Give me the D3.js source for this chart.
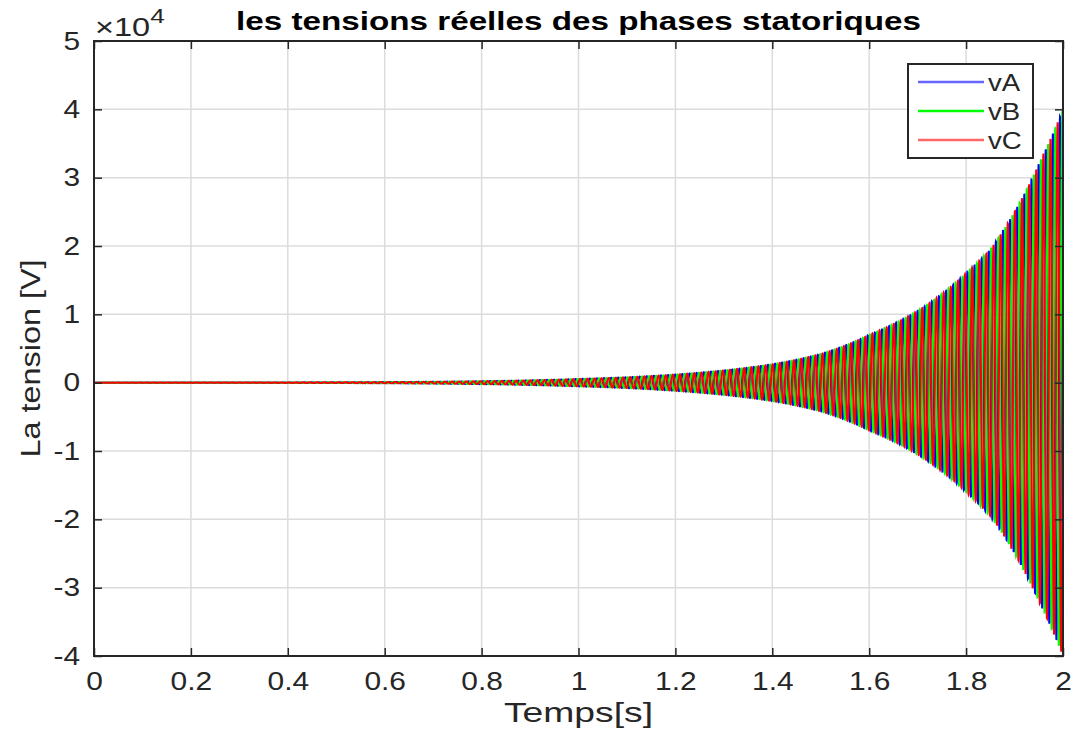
<!DOCTYPE html>
<html>
<head>
<meta charset="utf-8">
<script src="https://cdn.jsdelivr.net/npm/d3@7"></script>
<style>
  body { margin: 0; background: #fff; }
  text { font-family: "Liberation Sans", Arial, sans-serif; fill: #262626; }
</style>
</head>
<body>
<svg id="chart" width="1072" height="738"></svg>
<script>
// envelope of the three stator voltages (in units of 1e4 V)
var envTimes = [0, 0.1, 0.2, 0.3, 0.4, 0.5, 0.6, 0.7, 0.8, 0.9, 1.0, 1.1, 1.2, 1.3, 1.4, 1.5, 1.6, 1.7, 1.8, 1.85, 1.9, 1.95, 2.0];
var envValues = [0.0006, 0.001, 0.0016, 0.0025, 0.004, 0.006, 0.009, 0.014, 0.022, 0.035, 0.055, 0.08, 0.12, 0.18, 0.27, 0.42, 0.70, 1.05, 1.6, 1.95, 2.5, 3.2, 4.0];
var freqHz = 68;                       // carrier, about 7 px per cycle in the picture
var seriesNames = ['vA', 'vB', 'vC'];
var seriesPhase = [4 * Math.PI / 3, 2 * Math.PI / 3, 0];
var seriesColors = ['#0000ff', '#00ff00', '#ff0000'];
var xTicks = [0, 0.2, 0.4, 0.6, 0.8, 1, 1.2, 1.4, 1.6, 1.8, 2];
var yTicks = [-4, -3, -2, -1, 0, 1, 2, 3, 4, 5];

var svg = d3.select('#chart'),
    margin = {top: 41, right: 9, bottom: 82, left: 94},
    width = +svg.attr('width') - margin.left - margin.right,
    height = +svg.attr('height') - margin.top - margin.bottom;

var stretch = 1.15; // the reference picture is a bit wider than tall

var x = d3.scaleLinear().domain([0, 2]).range([0, width]);
var y = d3.scaleLinear().domain([-4, 5]).range([height, 0]);

// envelope between read points, interpolated on a log scale
var logEnv = d3.scaleLinear().domain(envTimes).range(envValues.map(Math.log));

var nSamples = 12000;
var times = d3.range(nSamples + 1).map(function(i) { return 2 * i / nSamples; });

var g = svg.append('g')
    .attr('transform', 'translate(' + margin.left + ',' + margin.top + ')');

// grid
g.append('g').selectAll('line')
    .data(xTicks.slice(1, -1))
  .enter().append('line')
    .attr('x1', function(d) { return x(d); }).attr('x2', function(d) { return x(d); })
    .attr('y1', 0).attr('y2', height)
    .attr('stroke', '#dcdcdc').attr('stroke-width', 1.5);
g.append('g').selectAll('line')
    .data(yTicks.slice(1, -1))
  .enter().append('line')
    .attr('y1', function(d) { return y(d); }).attr('y2', function(d) { return y(d); })
    .attr('x1', 0).attr('x2', width)
    .attr('stroke', '#dcdcdc').attr('stroke-width', 1.5);

// clipped signals
svg.append('clipPath').attr('id', 'clip')
  .append('rect').attr('width', width).attr('height', height);

var line = d3.line()
    .x(function(d) { return x(d[0]); })
    .y(function(d) { return y(d[1]); });

var plot = g.append('g').attr('clip-path', 'url(#clip)');
seriesNames.forEach(function(name, k) {
    var pts = times.map(function(t) {
        return [t, Math.exp(logEnv(t)) * Math.sin(2 * Math.PI * freqHz * t + seriesPhase[k])];
    });
    plot.append('path')
        .datum(pts)
        .attr('fill', 'none')
        .attr('stroke', seriesColors[k])
        .attr('stroke-width', 2)
        .attr('d', line);
});

// axes, MATLAB style with inner ticks on all four sides
var axisColor = '#262626';
function styleAxis(sel) {
    sel.select('.domain').remove();
    sel.selectAll('.tick line').attr('stroke', axisColor).attr('stroke-width', 1.5);
    sel.selectAll('.tick text').attr('font-size', 26).attr('fill', axisColor)
        .style('font-family', '"Liberation Sans", Arial, sans-serif');
}
var fmt = function(d) { return String(d); };

var xAxis = g.append('g')
    .attr('transform', 'translate(0,' + height + ')')
    .call(d3.axisBottom(x).tickValues(xTicks).tickSize(-8).tickPadding(16).tickFormat(fmt))
    .call(styleAxis);
xAxis.selectAll('.tick text').attr('transform', 'scale(' + stretch + ',1)');

g.append('g')
    .call(d3.axisTop(x).tickValues(xTicks).tickSize(-8).tickFormat(''))
    .call(styleAxis);

var yAxis = g.append('g')
    .call(d3.axisLeft(y).tickValues(yTicks).tickSize(-8).tickFormat(fmt))
    .call(styleAxis);
yAxis.selectAll('.tick text')
    .attr('x', -14 / stretch)
    .attr('transform', 'scale(' + stretch + ',1)');

g.append('g')
    .attr('transform', 'translate(' + width + ',0)')
    .call(d3.axisRight(y).tickValues(yTicks).tickSize(-8).tickFormat(''))
    .call(styleAxis);

g.append('rect')
    .attr('width', width).attr('height', height)
    .attr('fill', 'none').attr('stroke', axisColor).attr('stroke-width', 2);

// exponent label
var expo = svg.append('text')
    .attr('transform', 'translate(95,36) scale(1.25,1)')
    .attr('font-size', 26);
expo.append('tspan').text('\u00d710');
expo.append('tspan').attr('dy', -13).attr('font-size', 21).text('4');

// title
svg.append('text')
    .attr('x', margin.left + width / 2).attr('y', 30)
    .attr('text-anchor', 'middle')
    .attr('font-size', 26).attr('font-weight', 'bold').style('fill', '#000')
    .attr('textLength', 685).attr('lengthAdjust', 'spacingAndGlyphs')
    .text('les tensions réelles des phases statoriques');

// axis labels
svg.append('text')
    .attr('x', margin.left + width / 2).attr('y', 722)
    .attr('text-anchor', 'middle').attr('font-size', 28)
    .attr('textLength', 149).attr('lengthAdjust', 'spacingAndGlyphs')
    .text('Temps[s]');
svg.append('text')
    .attr('transform', 'translate(40,' + (margin.top + height / 2 + 10) + ') rotate(-90)')
    .attr('text-anchor', 'middle').attr('font-size', 27)
    .attr('textLength', 198).attr('lengthAdjust', 'spacingAndGlyphs')
    .text('La tension [V]');

// legend
var leg = svg.append('g').attr('transform', 'translate(908,64)');
leg.append('rect')
    .attr('width', 125).attr('height', 94)
    .attr('fill', '#fff').attr('stroke', axisColor).attr('stroke-width', 2);
seriesNames.forEach(function(name, k) {
    var ly = 18 + k * 29;
    leg.append('line')
        .attr('x1', 10).attr('x2', 76).attr('y1', ly).attr('y2', ly)
        .attr('stroke', seriesColors[k]).attr('stroke-width', 2.5).attr('stroke-opacity', k === 1 ? 1 : 0.6);
    leg.append('text')
        .attr('transform', 'translate(80,' + (ly + 9) + ') scale(' + stretch + ',1)')
        .attr('font-size', 24)
        .text(name);
});
</script>
</body>
</html>
